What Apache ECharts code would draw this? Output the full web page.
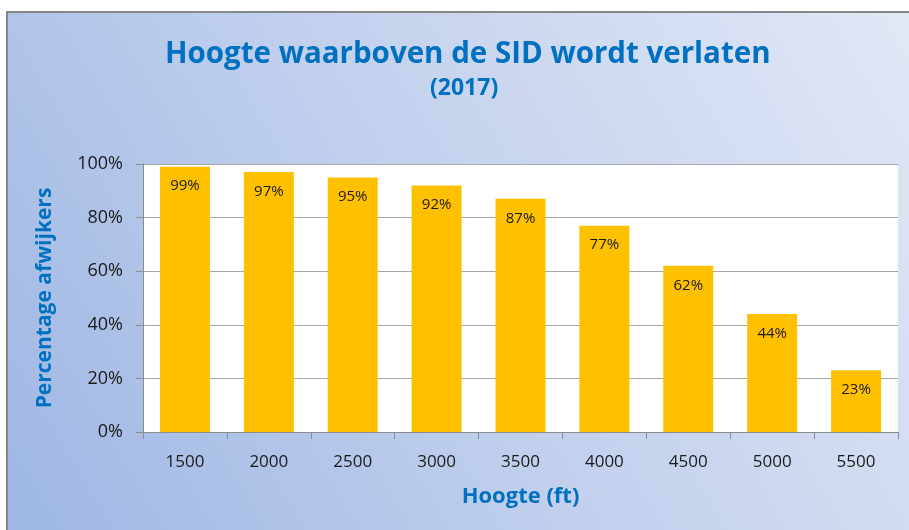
<!DOCTYPE html>
<html>
<head>
<meta charset="utf-8">
<script src="https://cdn.jsdelivr.net/npm/echarts@6/dist/echarts.min.js"></script>
<style>
  html, body { margin: 0; padding: 0; background: #fff; }
  #chart { width: 909px; height: 530px; }
</style>
</head>
<body>
<div id="chart"></div>
<script>
// heights (ft) on the x axis
const heights = ["1500", "2000", "2500", "3000", "3500", "4000", "4500", "5000", "5500"];
// percentage of deviators per height
const percentages = [99, 97, 95, 92, 87, 77, 62, 44, 23];

const titleText = "Hoogte waarboven de SID wordt verlaten";
const subtitleText = "(2017)";
const xAxisName = "Hoogte (ft)";
const yAxisName = "Percentage afwijkers";

const blue = "#0070C0";
const font = "'Open Sans', sans-serif";

const chart = echarts.init(document.getElementById("chart"));

const option = {
  animation: false,
  backgroundColor: "#ffffff",
  graphic: [
    {
      type: "rect",
      z: -10,
      silent: true,
      // the chart frame runs past the right and bottom edge of the picture
      shape: { x: 7, y: 12, width: 920, height: 540 },
      style: {
        fill: new echarts.graphic.LinearGradient(0, 1, 1, 0, [
          { offset: 0, color: "#9db6e4" },
          { offset: 0.5, color: "#c3d1ed" },
          { offset: 1, color: "#e2e8f5" },
        ]),
        stroke: "#878787",
        lineWidth: 2,
      },
    },
  ],
  title: [
    {
      text: titleText,
      left: 160,
      top: 35,
      textStyle: { color: blue, fontFamily: font, fontWeight: "bold", fontSize: 29.5 },
    },
    {
      text: subtitleText,
      left: 425,
      top: 72,
      textStyle: { color: blue, fontFamily: font, fontWeight: "bold", fontSize: 23 },
    },
  ],
  grid: {
    left: 143,
    right: 11,
    top: 164,
    bottom: 98,
    show: true,
    backgroundColor: "#ffffff",
    borderWidth: 0,
  },
  xAxis: {
    type: "category",
    data: heights,
    name: xAxisName,
    nameLocation: "middle",
    nameGap: 54,
    nameTextStyle: { color: blue, fontFamily: font, fontWeight: "bold", fontSize: 22 },
    axisLine: { lineStyle: { color: "#8c8c8c", width: 1 } },
    axisTick: { show: true, length: 7, lineStyle: { color: "#8c8c8c" } },
    axisLabel: { color: "#1a1a1a", fontFamily: font, fontSize: 17, margin: 22 },
  },
  yAxis: {
    type: "value",
    min: 0,
    max: 100,
    interval: 20,
    name: yAxisName,
    nameLocation: "middle",
    nameGap: 87,
    nameTextStyle: { color: blue, fontFamily: font, fontWeight: "bold", fontSize: 21 },
    axisLine: { show: true, lineStyle: { color: "#8c8c8c" } },
    axisTick: { show: true, length: 7, lineStyle: { color: "#8c8c8c" } },
    axisLabel: {
      color: "#1a1a1a",
      fontFamily: font,
      fontSize: 18,
      margin: 20,
      formatter: "{value}%",
    },
    splitLine: { lineStyle: { color: "#a6a6a6", width: 1 } },
  },
  series: [
    {
      type: "bar",
      data: percentages,
      barWidth: 50,
      itemStyle: { color: "#FFC000" },
      label: {
        show: true,
        position: "insideTop",
        distance: 12,
        formatter: "{c}%",
        color: "#1a1a1a",
        fontFamily: font,
        fontSize: 15,
      },
    },
  ],
};

chart.setOption(option);
</script>
</body>
</html>
